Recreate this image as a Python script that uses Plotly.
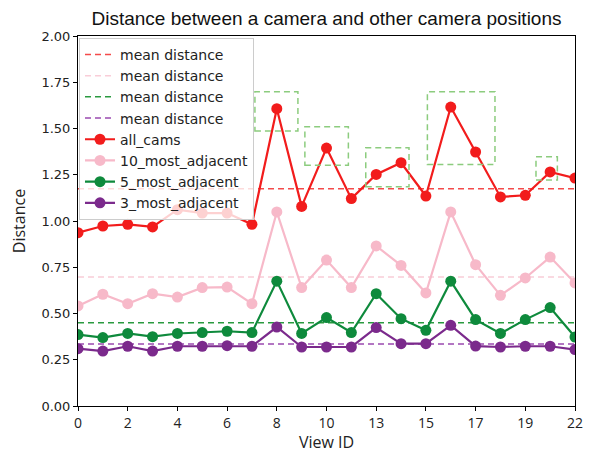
import numpy as np
import plotly.graph_objects as go

# ---- data ----
view_ids = [0, 1, 2, 3, 4, 5, 6, 7, 8, 9, 10, 11, 13, 14, 15, 16, 17, 18, 19, 21, 22]
all_cams = [0.937, 0.973, 0.982, 0.968, 1.061, 1.043, 1.043, 0.982, 1.607, 1.079, 1.394,
            1.121, 1.252, 1.315, 1.135, 1.616, 1.373, 1.130, 1.139, 1.265, 1.232]
most_10 = [0.541, 0.604, 0.553, 0.607, 0.589, 0.640, 0.643, 0.553, 1.049, 0.640, 0.789,
           0.640, 0.865, 0.760, 0.611, 1.049, 0.764, 0.598, 0.692, 0.805, 0.665]
most_5 = [0.386, 0.370, 0.392, 0.375, 0.392, 0.397, 0.404, 0.397, 0.675, 0.392, 0.478,
          0.397, 0.607, 0.472, 0.409, 0.675, 0.467, 0.392, 0.467, 0.532, 0.373]
most_3 = [0.310, 0.297, 0.323, 0.297, 0.323, 0.323, 0.326, 0.323, 0.427, 0.319, 0.319,
          0.319, 0.424, 0.337, 0.337, 0.436, 0.324, 0.319, 0.323, 0.323, 0.305]
series_names = ["all_cams", "10_most_adjacent", "5_most_adjacent", "3_most_adjacent"]
mean_label = "mean distance"
# highlighted regions (x0, x1, y0, y1) in data units
box_x0 = [7.12, 9.13, 11.58, 14.06, 18.43]
box_x1 = [8.85, 10.88, 13.32, 16.78, 19.29]
box_y0 = [1.487, 1.302, 1.185, 1.306, 1.221]
box_y1 = [1.698, 1.509, 1.396, 1.698, 1.347]

# ---- styling ----
line_colors = ["#f21c1c", "#f7b9c9", "#0e8a3c", "#7b2a8c"]
mean_colors = ["#f44a4a", "#f9cdd8", "#2a9a40", "#9a4ab0"]

series = [all_cams, most_10, most_5, most_3]
x = list(range(len(view_ids)))

fig = go.Figure()
for vals, c in zip(series, mean_colors):
    m = float(np.mean(vals))
    fig.add_trace(go.Scatter(x=[x[0], x[-1]], y=[m, m], mode="lines",
                             line=dict(color=c, width=1.5, dash="6px,4px"),
                             name=mean_label))
for vals, name, c in zip(series, series_names, line_colors):
    fig.add_trace(go.Scatter(x=x, y=vals, mode="lines+markers", name=name,
                             line=dict(color=c, width=2.2),
                             marker=dict(color=c, size=11)))

for a, b, c0, c1 in zip(box_x0, box_x1, box_y0, box_y1):
    fig.add_shape(type="rect", x0=a, x1=b, y0=c0, y1=c1, xref="x", yref="y",
                  line=dict(color="#8ccc7e", width=1.5, dash="6px,4px"),
                  fillcolor="rgba(0,0,0,0)", layer="above")

tick_pos = x[::2]
tick_txt = [str(v) for v in view_ids[::2]]

# page has an 8px body margin, so the figure is drawn at (8, 8)
W, H = 583, 445
fig.update_layout(
    width=W, height=H,
    margin=dict(l=70, r=16, t=28, b=47, autoexpand=False),
    paper_bgcolor="white", plot_bgcolor="white",
    font=dict(family="DejaVu Sans", size=13, color="#222"),
    title=dict(text="Distance between a camera and other camera positions",
               x=0.5, xref="paper", xanchor="center", y=1 - 10.5 / H, yref="container",
               yanchor="middle",
               font=dict(family="Liberation Sans", size=19, color="#111")),
    showlegend=True,
    legend=dict(x=0.002, y=0.995, xanchor="left", yanchor="top",
                bgcolor="rgba(255,255,255,0.8)", bordercolor="#cccccc", borderwidth=1,
                font=dict(family="DejaVu Sans", size=14, color="#222"),
                tracegroupgap=0, itemwidth=30),
    xaxis=dict(range=[0, 20], tickmode="array", tickvals=tick_pos, ticktext=tick_txt,
               automargin=False,
               showgrid=False, zeroline=False, showline=True, linecolor="black",
               linewidth=1, mirror=True, ticks="outside", ticklen=4, tickcolor="black",
               tickfont=dict(family="Open Sans", size=14),
               title=dict(text="View ID", font=dict(family="Open Sans", size=16), standoff=5)),
    yaxis=dict(range=[0, 2], tickmode="linear", tick0=0, dtick=0.25, tickformat=".2f",
               automargin=False,
               showgrid=False, zeroline=False, showline=True, linecolor="black",
               linewidth=1, mirror=True, ticks="outside", ticklen=4, tickcolor="black",
               tickfont=dict(family="DejaVu Sans", size=13),
               title=dict(text="Distance", font=dict(family="Open Sans", size=16), standoff=11)),
)

fig.write_html("out.html")
